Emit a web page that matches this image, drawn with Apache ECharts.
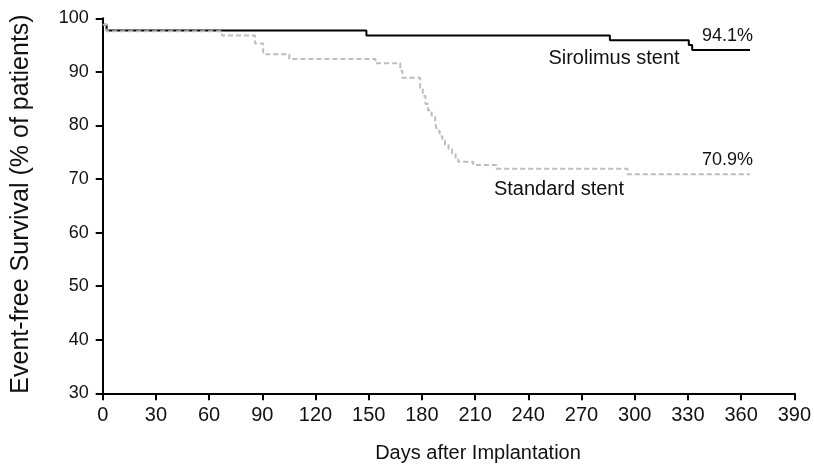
<!DOCTYPE html>
<html>
<head>
<meta charset="utf-8">
<script src="https://cdn.jsdelivr.net/npm/echarts@6/dist/echarts.min.js"></script>
<style>
html,body{margin:0;padding:0;background:#fff;}
#chart{width:814px;height:467px;}
</style>
</head>
<body>
<div id="chart"></div>
<script>
// Kaplan-Meier data (day, event-free survival %)
const sirolimusDays = [0, 2.2, 148.7, 286, 330.5, 332.4, 365];
const sirolimusSurv = [98.8, 97.7, 96.8, 95.9, 95.0, 94.1, 94.1];

const standardDays = [0, 2.2, 67.3, 85.9, 90.5, 105.2, 153.8, 167.8, 169.0, 179.0, 180.5, 182.0, 183.5, 185.5, 187.5, 188.5, 190.0, 191.5, 193.0, 195.0, 197.0, 199.0, 200.5, 208.9, 222.0, 295.9, 365];
const standardSurv = [98.8, 97.6, 96.8, 95.3, 93.3, 92.4, 91.6, 90.2, 88.9, 87.0, 85.5, 84.0, 82.8, 81.8, 80.5, 79.0, 78.0, 77.2, 76.4, 75.6, 74.8, 73.8, 73.2, 72.6, 71.9, 70.9, 70.9];

const xTicks = [0, 30, 60, 90, 120, 150, 180, 210, 240, 270, 300, 330, 360, 390];
const yTicks = [30, 40, 50, 60, 70, 80, 90, 100];

const seriesNames = ['Sirolimus stent', 'Standard stent'];
const endLabels = ['94.1%', '70.9%'];
const xTitle = 'Days after Implantation';
const yTitle = 'Event-free Survival (% of patients)';

const zip = (a, b) => a.map((v, i) => [v, b[i]]);

const chart = echarts.init(document.getElementById('chart'), null, {renderer: 'canvas'});
const font = '"Liberation Sans", Arial, Helvetica, sans-serif';

function txt(x, y, text, size, align, extra) {
  return Object.assign({
    type: 'text', x: x, y: y,
    style: {text: text, fontFamily: font, fontSize: size, fill: '#111', align: align, verticalAlign: 'middle'}
  }, extra || {});
}

chart.setOption({
  animation: false,
  backgroundColor: '#fff',
  grid: {left: 102.7, right: 16.3, top: 18.3, bottom: 73.7, containLabel: false},
  xAxis: {
    type: 'value',
    min: xTicks[0], max: xTicks[xTicks.length - 1], interval: 30,
    axisLine: {show: true, onZero: false, lineStyle: {color: '#000', width: 2}},
    axisTick: {show: true, inside: false, length: 7, lineStyle: {color: '#000', width: 2}},
    axisLabel: {color: '#111', fontFamily: font, fontSize: 20, margin: 12},
    splitLine: {show: false}
  },
  yAxis: {
    type: 'value',
    min: yTicks[0], max: yTicks[yTicks.length - 1], interval: 10,
    axisLine: {show: true, onZero: false, lineStyle: {color: '#000', width: 2}},
    axisTick: {show: true, inside: false, length: 7, lineStyle: {color: '#000', width: 2}},
    axisLabel: {color: '#111', fontFamily: font, fontSize: 18, margin: 14},
    splitLine: {show: false}
  },
  series: [
    {
      name: seriesNames[0], type: 'line', step: 'end', showSymbol: false, symbol: 'none',
      data: zip(sirolimusDays, sirolimusSurv),
      lineStyle: {color: '#000', width: 2}, z: 2
    },
    {
      name: seriesNames[1], type: 'line', step: 'end', showSymbol: false, symbol: 'none',
      data: zip(standardDays, standardSurv),
      lineStyle: {color: '#bdbdbd', width: 2, type: [5, 3]}, z: 3
    }
  ],
  graphic: [
    txt(753, 36, endLabels[0], 18, 'right'),
    txt(614, 58.5, seriesNames[0], 20, 'center'),
    txt(753, 160, endLabels[1], 18, 'right'),
    txt(559, 189, seriesNames[1], 20, 'center'),
    txt(478, 453, xTitle, 20, 'center'),
    txt(21, 204, yTitle, 25, 'center', {rotation: Math.PI / 2})
  ]
});
</script>
</body>
</html>
